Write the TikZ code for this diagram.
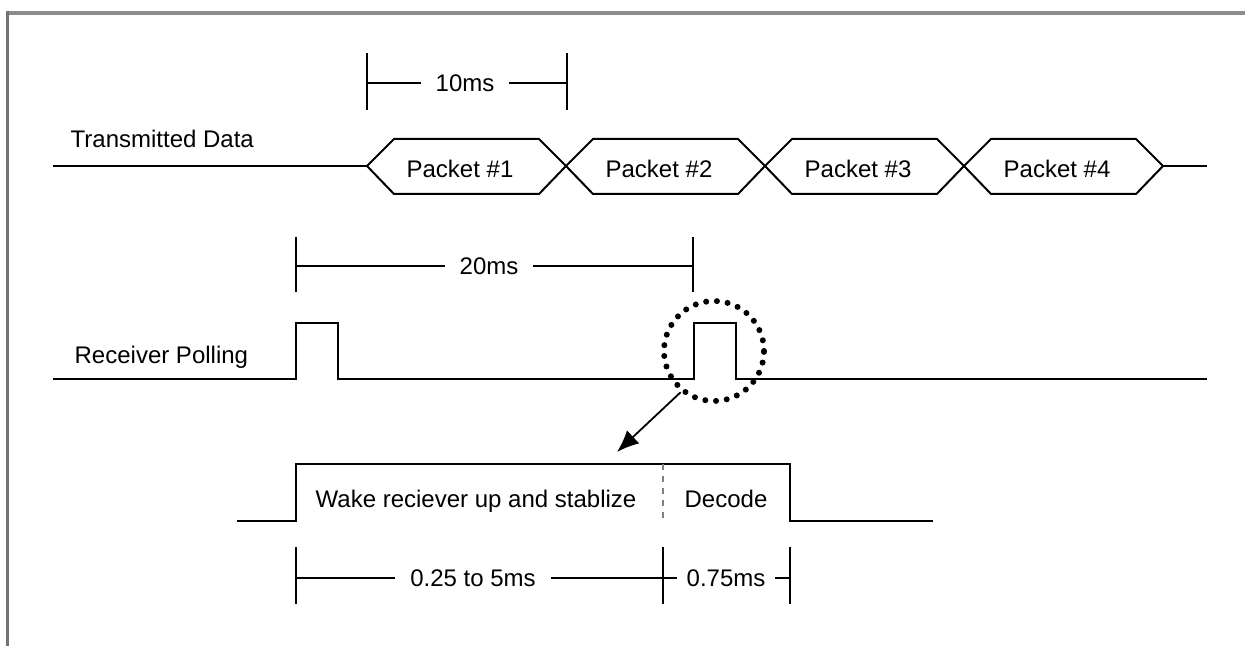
\documentclass[tikz,border=0pt]{standalone}
\usepackage{fontspec}
\setmainfont{Liberation Sans}
\usetikzlibrary{arrows.meta}

\begin{document}
\begin{tikzpicture}[x=0.5pt,y=-0.5pt,line width=1pt,
  font=\fontsize{12}{14}\selectfont,
  gap/.style={fill=white,inner ysep=1pt,inner xsep=7pt},
  tick/.style={line width=1.2pt},
  ring/.style={circle,draw,minimum size=50pt,inner sep=0pt,line width=3pt,
    dash pattern=on 0pt off 5.4pt,line cap=round}]
  \useasboundingbox (0,0) rectangle (1245,646);
  % frame
  \fill[black!45] (7,11) rectangle (1245,15);
  \fill[black!55] (6,11) rectangle (9,646);

  % transmitted data
  \node[anchor=base west] (txd) at (63,148) {Transmitted Data};
  \draw (53,166) -- (367,166);
  \foreach \i in {1,...,4} {
    \pgfmathsetmacro{\xa}{367+199*(\i-1)}
    \draw (\xa,166) -- ++(27,-27) -- ++(145,0) -- ++(27,27) -- ++(-27,28) -- ++(-145,0) -- cycle;
    \node[anchor=base] (pkt\i) at (\xa+93,178) {Packet \#\i};
  }
  \draw (1163,166) -- (1207,166);
  \draw[tick] (367,53) -- (367,110) (567,53) -- (567,110);
  \node[gap] (t10) at (465,83) {10ms};
  \draw[tick] (367,83) -- (t10) -- (567,83);

  % receiver polling
  \node[anchor=base west] (rxp) at (67,363) {Receiver Polling};
  \draw (53,379) -- (296,379) -- (296,323) -- (338,323) -- (338,379)
    -- (694,379) -- (694,323) -- (736,323) -- (736,379) -- (1207,379);
  \draw[tick] (296,237) -- (296,292) (693,237) -- (693,292);
  \node[gap] (t20) at (489,266) {20ms};
  \draw[tick] (296,266) -- (t20) -- (693,266);

  % zoomed pulse
  \node[ring] (zoom) at (714,351) {};
  \coordinate (tip) at (617,452);
  \draw[line width=0.9pt,-{Latex[length=11pt,width=9pt]}] (zoom.231) -- (tip);

  \draw (237,521) -- (296,521) -- (296,464) -- (790,464) -- (790,521) -- (933,521);
  \draw[black!50,dashed,line width=0.8pt] (663,464) -- (663,521);
  \node[anchor=base] (wake) at (476,507) {Wake reciever up and stablize};
  \node[anchor=base] (dec) at (726,507) {Decode};

  \draw[tick] (296,547) -- (296,604) (663,547) -- (663,604) (790,547) -- (790,604);
  \node[gap] (t025) at (473,578) {0.25 to 5ms};
  \node[gap,inner xsep=4.5pt] (t075) at (726,578) {0.75ms};
  \draw[tick] (296,578) -- (t025) -- (663,578) -- (t075) -- (790,578);
\end{tikzpicture}
\end{document}
